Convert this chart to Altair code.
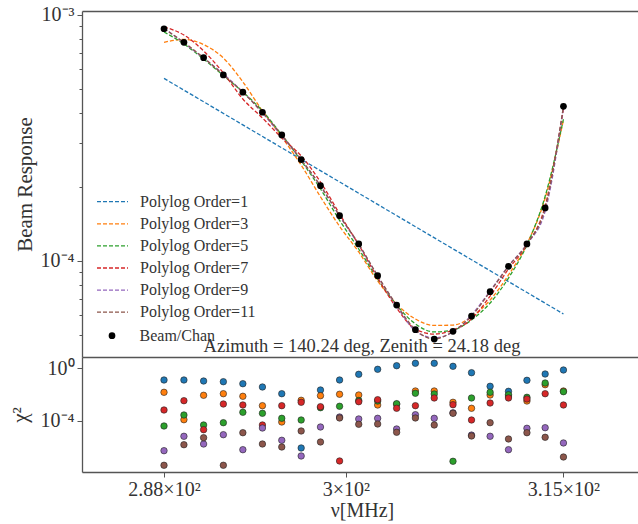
import altair as alt
import pandas as pd

# ---------------- data ----------------
freq = [288.0, 289.29, 290.57, 291.86, 293.14, 294.43, 295.71, 297.0, 298.29, 299.57, 300.86,
        302.14, 303.43, 304.71, 306.0, 307.29, 308.57, 309.86, 311.14, 312.43, 313.71, 315.0]

beam = [8.79e-4, 7.74e-4, 6.70e-4, 5.70e-4, 4.85e-4, 4.02e-4, 3.25e-4, 2.58e-4, 2.02e-4, 1.525e-4, 1.17e-4,
        8.69e-5, 6.60e-5, 5.24e-5, 4.80e-5, 5.16e-5, 5.95e-5, 7.48e-5, 9.49e-5, 1.17e-4, 1.64e-4, 4.25e-4]

orders = ["Polylog Order=1", "Polylog Order=3", "Polylog Order=5",
          "Polylog Order=7", "Polylog Order=9", "Polylog Order=11"]
colors = ["#1f77b4", "#ff7f0e", "#2ca02c", "#d62728", "#9467bd", "#8c564b"]

fit1_freq = [288.0, 315.0]
fit1 = [5.52e-4, 6.07e-5]
fit3 = [7.74e-4, 7.95e-4, 7.58e-4, 6.68e-4, 5.34e-4, 4.07e-4, 3.19e-4, 2.45e-4, 1.82e-4, 1.38e-4, 1.085e-4,
        8.27e-5, 6.66e-5, 5.79e-5, 5.45e-5, 5.47e-5, 5.90e-5, 6.92e-5, 8.75e-5, 1.17e-4, 1.80e-4, 3.74e-4]
fit5 = [8.53e-4, 7.62e-4, 6.62e-4, 5.67e-4, 4.86e-4, 4.07e-4, 3.25e-4, 2.55e-4, 1.96e-4, 1.46e-4, 1.116e-4,
        8.42e-5, 6.60e-5, 5.53e-5, 5.13e-5, 5.22e-5, 5.74e-5, 6.73e-5, 8.50e-5, 1.16e-4, 1.83e-4, 3.77e-4]
fit7 = [8.94e-4, 8.29e-4, 7.14e-4, 5.81e-4, 4.55e-4, 3.81e-4, 3.16e-4, 2.67e-4, 2.09e-4, 1.55e-4, 1.16e-4,
        8.50e-5, 6.42e-5, 5.27e-5, 5.03e-5, 5.22e-5, 5.79e-5, 7.18e-5, 9.25e-5, 1.16e-4, 1.67e-4, 4.14e-4]
fit9 = [8.85e-4, 7.69e-4, 6.68e-4, 5.75e-4, 4.86e-4, 3.99e-4, 3.22e-4, 2.57e-4, 2.01e-4, 1.52e-4, 1.16e-4,
        8.66e-5, 6.54e-5, 5.18e-5, 4.85e-5, 5.13e-5, 6.01e-5, 7.53e-5, 9.52e-5, 1.17e-4, 1.59e-4, 4.22e-4]
fit11 = [8.79e-4, 7.74e-4, 6.70e-4, 5.70e-4, 4.85e-4, 4.02e-4, 3.25e-4, 2.58e-4, 2.02e-4, 1.525e-4, 1.17e-4,
         8.69e-5, 6.60e-5, 5.24e-5, 4.80e-5, 5.16e-5, 5.95e-5, 7.48e-5, 9.49e-5, 1.17e-4, 1.64e-4, 4.25e-4]

chi1 = [0.128, 0.128, 0.107, 0.0948, 0.0667, 0.0374, 0.0115, 8.24e-7, 0.0221, 0.128, 0.348,
        0.839, 1.58, 2.41, 2.41, 1.42, 0.461, 0.0423, 0.0175, 0.121, 0.367, 0.741]
chi3 = [0.0147, 1.19e-4, 8.69e-3, 0.0115, 7.29e-3, 1.40e-3, 7.96e-5, 3.61e-3, 8.09e-3, 0.0104, 9.16e-3,
        1.58e-3, 1.78e-3, 0.0185, 0.0185, 2.54e-3, 8.85e-4, 9.16e-3, 7.67e-3, 3.19e-3, 0.056, 0.0185]
chi5 = [3.94e-5, 2.72e-4, 4.70e-5, 7.03e-5, 4.38e-4, 3.67e-4, 1.52e-4, 1.13e-4, 9.82e-4, 1.26e-3, 3.48e-3,
        3.16e-3, 1.99e-3, 0.0124, 0.0109, 7.96e-8, 5.41e-3, 0.0147, 9.66e-3, 6.11e-3, 0.0755, 0.0164]
chi7 = [6.56e-4, 3.37e-3, 2.06e-5, 1.88e-3, 1.58e-3, 4.70e-5, 1.40e-3, 2.54e-3, 1.17e-3, 8.39e-8, 2.82e-3,
        4.01e-3, 8.85e-4, 1.40e-3, 5.41e-3, 1.66e-3, 1.13e-4, 2.24e-3, 5.41e-3, 4.53e-3, 0.0115, 1.58e-3]
chi9 = [5.13e-7, 6.44e-6, 1.66e-6, 8.53e-6, 6.11e-7, 2.77e-5, 3.19e-6, 2.02e-7, 3.30e-5, 1.91e-4, 1.35e-4,
        1.52e-4, 2.32e-5, 2.87e-4, 1.52e-4, 3.98e-4, 7.94e-6, 6.44e-6, 6.11e-7, 2.63e-5, 2.92e-5, 1.99e-6]
chi11 = [3.94e-8, 1.47e-6, 5.04e-6, 3.94e-8, 1.21e-5, 1.66e-6, 9.82e-7, 1.64e-5, 2.37e-6, 1.61e-4, 5.31e-5,
         5.60e-5, 1.30e-5, 1.61e-4, 4.70e-5, 3.67e-4, 6.79e-6, 7.03e-5, 4.01e-6, 1.21e-5, 5.41e-6, 1.69e-7]

top_ticks = [5e-5, 6e-5, 7e-5, 8e-5, 9e-5, 1e-4, 2e-4, 3e-4, 4e-4, 5e-4, 6e-4, 7e-4, 8e-4, 9e-4, 1e-3]
bottom_ticks = [1.0, 1e-4]
x_ticks = [288, 300, 315]
title_text = "Azimuth = 140.24 deg, Zenith = 24.18 deg"

# ---------------- tables ----------------
fit_rows = []
for f, v in zip(fit1_freq, fit1):
    fit_rows.append({"order": orders[0], "freq": f, "value": v})
for name, vals in zip(orders[1:], [fit3, fit5, fit7, fit9, fit11]):
    for f, v in zip(freq, vals):
        fit_rows.append({"order": name, "freq": f, "value": v})
fit_df = pd.DataFrame(fit_rows)

beam_df = pd.DataFrame({"freq": freq, "value": beam, "label": ["Beam/Chan"] * len(freq)})

chi_rows = []
for name, vals in zip(orders, [chi1, chi3, chi5, chi7, chi9, chi11]):
    for f, v in zip(freq, vals):
        chi_rows.append({"order": name, "freq": f, "chi2": v})
chi_df = pd.DataFrame(chi_rows)

# ---------------- styling ----------------
FONT = "Liberation Serif"
TXT = "#333333"
AX = "#555555"
W = 560
X_DOMAIN = [282.75, 320.6]

xscale = alt.Scale(type="log", domain=X_DOMAIN, nice=False, zero=False)
ytop_scale = alt.Scale(type="log", domain=[4.056e-5, 1.038e-3], nice=False)
ybot_scale = alt.Scale(type="log", domain=[1.21e-8, 7.29], nice=False)

common_axis = dict(labelFont=FONT, labelFontSize=20, labelColor=TXT, titleFont=FONT,
                   titleFontWeight="normal", titleColor=TXT, tickColor=AX, domainColor=AX,
                   domainWidth=1.3, tickWidth=1, grid=False)

top_y_axis = alt.Axis(
    values=top_ticks,
    labelExpr="datum.value == 0.001 ? '10⁻³' : (datum.value == 0.0001 ? '10⁻⁴' : '')",
    tickSize={"condition": {"test": "datum.value == 0.001 || datum.value == 0.0001", "value": 5}, "value": 3},
    title="Beam Response", titleFontSize=21, titleX=-57, titleBaseline="middle",
    labelPadding=3, **common_axis)

top_x_axis = alt.Axis(orient="top", labels=False, ticks=False, title=None, domain=True,
                      domainColor=AX, domainWidth=1.3, grid=False)

lines = alt.Chart(fit_df).mark_line(strokeDash=[4, 2], strokeWidth=1.3, interpolate="monotone").encode(
    x=alt.X("freq:Q", scale=xscale, axis=None),
    y=alt.Y("value:Q", scale=ytop_scale, axis=top_y_axis),
    color=alt.Color("order:N", scale=alt.Scale(domain=orders, range=colors),
                    legend=alt.Legend(title=None, orient="none", legendX=22.5, legendY=182.7,
                                      symbolType="M-7.75,0H7.75", symbolSize=16, symbolDash=[4, 2],
                                      symbolStrokeWidth=1.3, labelFont=FONT, labelFontSize=16,
                                      labelColor=TXT, labelOffset=19.5, rowPadding=6.1, padding=0)),
    detail="order:N",
)

beam_pts = alt.Chart(beam_df).mark_circle(size=45, opacity=1).encode(
    x=alt.X("freq:Q", scale=xscale, axis=top_x_axis),
    y=alt.Y("value:Q", scale=ytop_scale),
    color=alt.Color("label:N", scale=alt.Scale(domain=["Beam/Chan"], range=["black"]),
                    legend=alt.Legend(title=None, orient="none", legendX=22, legendY=316.7,
                                      symbolType="circle", symbolSize=45, labelFont=FONT,
                                      labelFontSize=16, labelColor=TXT, labelOffset=19.5, padding=0)),
)

top = alt.layer(lines, beam_pts).resolve_scale(color="independent").resolve_axis(x="independent").properties(
    width=W, height=346)

bot_y_axis = alt.Axis(values=bottom_ticks, labelExpr="datum.value == 1 ? '10⁰' : '10⁻⁴'",
                      tickSize=5, title="χ²", titleFontSize=21, titleX=-62, titleBaseline="middle",
                      labelPadding=3, **common_axis)
bot_x_axis = alt.Axis(values=x_ticks,
                      labelExpr="datum.value == 288 ? '2.88×10²' : (datum.value == 300 ? '3×10²' : '3.15×10²')",
                      tickSize=5, title="ν[MHz]", titleFontSize=20, titleY=38, titleBaseline="middle",
                      labelPadding=2, **common_axis)

chi_pts = alt.Chart(chi_df).mark_circle(size=42, opacity=1, stroke="#222222", strokeWidth=0.6).encode(
    x=alt.X("freq:Q", scale=xscale, axis=bot_x_axis),
    y=alt.Y("chi2:Q", scale=ybot_scale, axis=bot_y_axis),
    color=alt.Color("order:N", scale=alt.Scale(domain=orders, range=colors), legend=None),
)
chi_frame = alt.Chart(chi_df).mark_circle(opacity=0).encode(
    x=alt.X("freq:Q", scale=xscale, axis=top_x_axis),
    y=alt.Y("chi2:Q", scale=ybot_scale),
)

bottom = alt.layer(chi_pts, chi_frame).resolve_axis(x="independent").properties(
    width=W, height=115,
    title=alt.TitleParams(title_text, font=FONT, fontSize=18.5, fontWeight="normal", color=TXT,
                          anchor="middle", offset=2))

chart = alt.vconcat(top, bottom, spacing=0, bounds="flush",
                    padding={"left": 9, "top": 4, "right": -4, "bottom": 2}).resolve_scale(
    color="independent").configure(background="white").configure_view(
    stroke="transparent", strokeWidth=0)

chart.save("out.html", embed_options={"renderer": "svg", "actions": False})
